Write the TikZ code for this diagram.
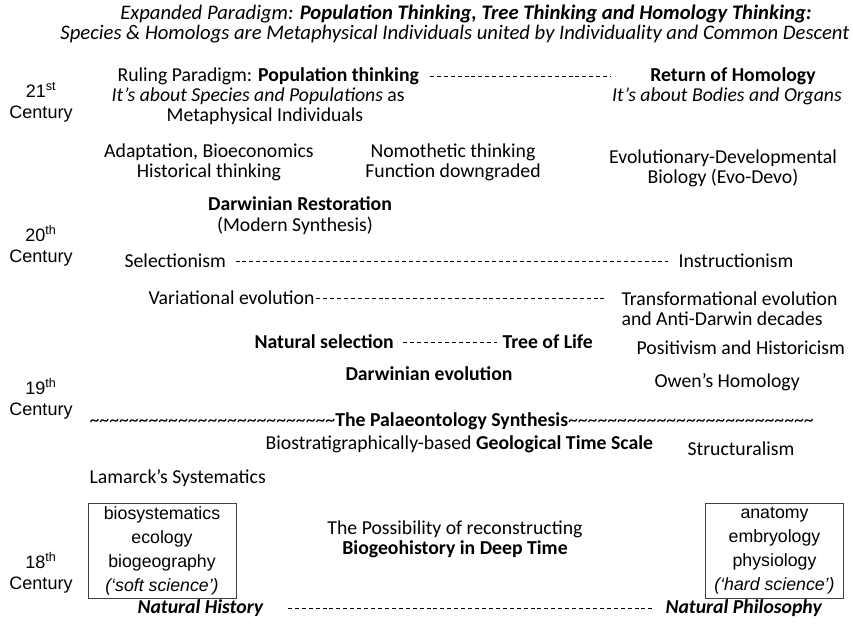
\documentclass[tikz,border=0pt]{standalone}
\usepackage{fontspec}
\setmainfont{Carlito}
\newfontfamily\wideface{Liberation Sans}
\usetikzlibrary{positioning}
% a run of n tildes
\newcommand{\wavy}[1]{\foreach \i in {1,...,#1}{\textasciitilde}}
\newcommand{\centurymark}[2]{#1\textsuperscript{#2}\\Century}

\begin{document}
\begin{tikzpicture}[x=0.75pt, y=-0.75pt, font=\fontsize{14.8}{15}\selectfont,
 txt/.style={inner sep=1pt, align=center},
 head/.style={txt, font=\itshape\fontsize{15.5}{15}\selectfont},
 era/.style={txt, font=\wideface\fontsize{13.5}{16}\selectfont},
 field/.style={draw=black!75, line width=0.6pt, align=center, inner sep=2pt,
  minimum height=71pt, font=\wideface\fontsize{13.3}{18}\selectfont},
 link/.style={draw, line width=0.5pt, dash pattern=on 3pt off 2.2pt}]
\useasboundingbox (0,0) rectangle (853,624);

% headline
\node[head] (title) at (466,14)
 {Expanded Paradigm: \textbf{Population Thinking, Tree Thinking and Homology Thinking:}};
\node[head] (subtitle) at (455,34)
 {Species \& Homologs are Metaphysical Individuals united by Individuality and Common Descent};

% centuries
\node[era] (c21) at (41,102) {\centurymark{21}{st}};
\node[era] (c20) at (41,246) {\centurymark{20}{th}};
\node[era] (c19) at (41,399) {\centurymark{19}{th}};
\node[era] (c18) at (41,573) {\centurymark{18}{th}};

% 21st century
\node[txt, anchor=west] (ruling) at (116,76) {Ruling Paradigm: \textbf{Population thinking}};
\node[txt, anchor=west] (species) at (110,96) {\textit{It’s about Species and Populations} as};
\node[txt] (metaind) at (265,116) {Metaphysical Individuals};
\node[txt] (homology) at (733,76) {\textbf{Return of Homology}};
\node[txt] (bodies) at (727,96) {\textit{It’s about Bodies and Organs}};
\draw[link, shorten <=7pt] (ruling.east) -- (ruling.east -| bodies.west);

% 20th century
\node[txt] (adapt) at (209,162) {Adaptation, Bioeconomics\\Historical thinking};
\node[txt] (nomo) at (453,162) {Nomothetic thinking\\Function downgraded};
\node[txt] (evodevo) at (723,168) {Evolutionary-Developmental\\Biology (Evo-Devo)};
\node[txt] (restor) at (300,204) {\textbf{Darwinian Restoration}};
\node[txt] (modsyn) at (295,226) {(Modern Synthesis)};
\node[txt, anchor=west] (select) at (123,261) {Selectionism};
\node[txt, anchor=west] (instr) at (677,261) {Instructionism};
\draw[link, shorten <=6pt, shorten >=7pt] (select) -- (instr);
\node[txt, anchor=west] (variat) at (147,298) {Variational evolution};
\node[txt, anchor=west, align=left] (transf) at (620,309) {Transformational evolution\\and Anti-Darwin decades};
\draw[link, shorten >=12pt] (variat.east) -- (variat.east -| transf.west);

% 19th century
\node[txt, anchor=west] (natsel) at (253,342) {\textbf{Natural selection}};
\node[txt, anchor=west] (tree) at (501,342) {\textbf{Tree of Life}};
\draw[link, shorten <=6pt, shorten >=3pt] (natsel) -- (tree);
\node[txt, anchor=west] (positiv) at (635,348) {Positivism and Historicism};
\node[txt] (darwev) at (429,374) {\textbf{Darwinian evolution}};
\node[txt, anchor=west] (owen) at (653,382) {Owen’s Homology};
\node[txt, anchor=west] (palaeo) at (88,421) {\wavy{25}\textbf{The Palaeontology Synthesis}\wavy{25}};
\node[txt, anchor=west] (geo) at (264,444) {Biostratigraphically-based \textbf{Geological Time Scale}};
\node[txt, anchor=west] (struct) at (686,449) {Structuralism};
\node[txt, anchor=west] (lamarck) at (88,478) {Lamarck’s Systematics};

% 18th century
\node[field, minimum width=111pt] (soft) at (162,551)
 {biosystematics\\ecology\\biogeography\\\textit{(‘soft science’)}};
\node[field, minimum width=103pt] (hard) at (774.5,551)
 {anatomy\\embryology\\physiology\\\textit{(‘hard science’)}};
\node[txt] (possib) at (455,539) {The Possibility of reconstructing\\\textbf{Biogeohistory in Deep Time}};
\node[txt, anchor=west] (nathist) at (136,608) {\textbf{\textit{Natural History}}};
\node[txt, anchor=west] (natphil) at (664,608) {\textbf{\textit{Natural Philosophy}}};
\draw[link, shorten <=17pt, shorten >=8pt] (nathist) -- (natphil);
\end{tikzpicture}
\end{document}
